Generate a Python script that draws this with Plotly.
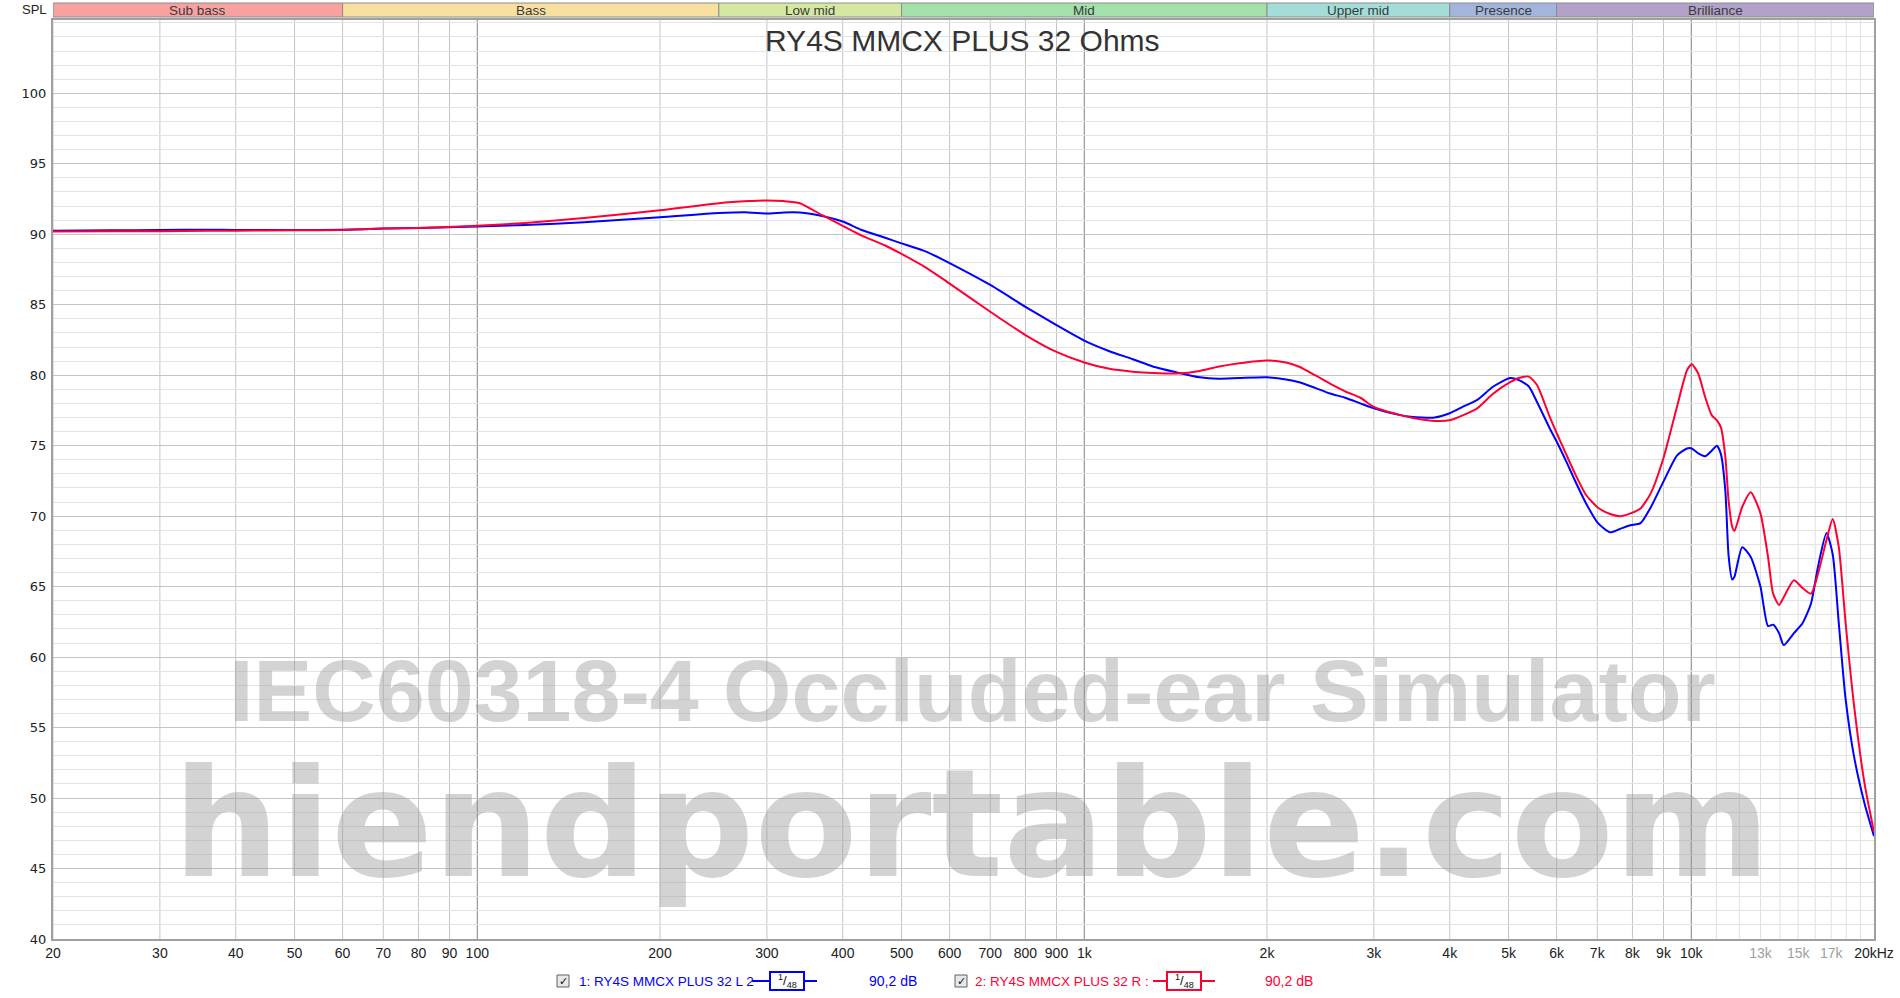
import math
import plotly.graph_objects as go

# ---------------- data ----------------
freq = [20, 25, 30, 36, 40, 50, 60, 70, 80, 100, 120, 150, 200, 250, 280, 300, 320, 340,
        370, 400, 430, 470, 500, 550, 600, 700, 800, 900, 1000, 1100, 1200, 1300, 1420,
        1550, 1660, 1800, 2000, 2150, 2260, 2400, 2540, 2690, 2850, 3000, 3330, 3600,
        3780, 4000, 4200, 4440, 4720, 5030, 5200, 5400, 5570, 5850, 6000, 6220, 6420,
        6710, 7020, 7350, 7640, 7940, 8250, 8570, 9010, 9470, 9840, 10020, 10270, 10540,
        10810, 11020, 11190, 11380, 11520, 11680, 11780, 12130, 12530, 13000, 13380,
        13640, 13950, 14200, 14760, 15250, 15750, 16170, 16700, 17100, 17500, 17960,
        18550, 19300, 20000]

spl_left = [90.25, 90.28, 90.3, 90.32, 90.3, 90.3, 90.32, 90.4, 90.45, 90.55, 90.65, 90.85,
            91.2, 91.5, 91.55, 91.47, 91.55, 91.55, 91.3, 90.9, 90.3, 89.75, 89.35, 88.75,
            87.95, 86.4, 84.85, 83.55, 82.45, 81.7, 81.15, 80.6, 80.2, 79.85, 79.75, 79.8,
            79.85, 79.7, 79.5, 79.1, 78.7, 78.4, 78.0, 77.65, 77.15, 77.0, 77.0, 77.3,
            77.75, 78.25, 79.2, 79.8, 79.65, 79.2, 78.1, 76.2, 75.3, 73.9, 72.6, 70.9,
            69.5, 68.85, 69.1, 69.35, 69.5, 70.6, 72.5, 74.3, 74.8, 74.8, 74.45, 74.25,
            74.65, 75.0, 74.4, 71.8, 67.2, 65.5, 65.7, 67.8, 67.1, 65.0, 62.2, 62.3, 61.7,
            60.85, 61.7, 62.4, 63.8, 66.4, 68.8, 67.3, 62.4, 57.0, 52.9, 49.6, 47.3]

spl_right = [90.2, 90.22, 90.22, 90.25, 90.25, 90.28, 90.3, 90.4, 90.45, 90.6, 90.8, 91.15,
             91.7, 92.2, 92.35, 92.4, 92.35, 92.2, 91.35, 90.6, 89.9, 89.2, 88.6, 87.6,
             86.5, 84.5, 82.85, 81.65, 80.9, 80.45, 80.25, 80.15, 80.12, 80.3, 80.6, 80.85,
             81.05, 80.9, 80.6, 80.0, 79.4, 78.85, 78.4, 77.75, 77.15, 76.85, 76.75, 76.8,
             77.15, 77.65, 78.7, 79.5, 79.8, 79.9, 79.3, 77.0, 75.9, 74.4, 73.1, 71.5,
             70.6, 70.15, 70.0, 70.2, 70.55, 71.6, 74.2, 77.75, 80.35, 80.78, 80.1, 78.45,
             77.15, 76.8, 76.3, 74.2, 71.1, 69.25, 68.95, 70.65, 71.7, 70.2, 67.1, 64.5,
             63.7, 64.25, 65.45, 64.9, 64.5, 65.9, 68.3, 69.8, 67.8, 62.4, 56.5, 51.0, 47.6]

series_names = ["1: RY4S MMCX PLUS 32 L 2", "2: RY4S MMCX PLUS 32 R :"]
series_levels = ["90,2 dB", "90,2 dB"]
series_colors = ["#0000FF", "#FF0033"]

band_names = ["Sub bass", "Bass", "Low mid", "Mid", "Upper mid", "Presence", "Brilliance"]
band_edges = [20, 60, 250, 500, 2000, 4000, 6000, 20000]
band_colors = ["#F9A1A1", "#F8E1A0", "#D5E8A2", "#A2E2AA", "#A2DED7", "#A2B5DC", "#B2A1C8"]

grid_x = ([20, 30, 40, 50, 60, 70, 80, 90]
          + [100, 200, 300, 400, 500, 600, 700, 800, 900]
          + [1000, 2000, 3000, 4000, 5000, 6000, 7000, 8000, 9000]
          + [10000])
grid_x_decades = [100, 1000, 10000]
grid_x_fine = [11000, 12000, 13000, 14000, 15000, 16000, 17000, 18000, 19000]

x_tick_vals = [20, 30, 40, 50, 60, 70, 80, 90, 100, 200, 300, 400, 500, 600, 700, 800, 900,
               1000, 2000, 3000, 4000, 5000, 6000, 7000, 8000, 9000, 10000, 13000, 15000,
               17000, 20000]
x_tick_text = ["20", "30", "40", "50", "60", "70", "80", "90", "100", "200", "300", "400",
               "500", "600", "700", "800", "900", "1k", "2k", "3k", "4k", "5k", "6k", "7k",
               "8k", "9k", "10k", "<span style='color:#A0A0A0'>13k</span>",
               "<span style='color:#A0A0A0'>15k</span>",
               "<span style='color:#A0A0A0'>17k</span>", "20kHz"]
y_tick_vals = [40, 45, 50, 55, 60, 65, 70, 75, 80, 85, 90, 95, 100]

title_text = "RY4S MMCX PLUS 32 Ohms"
watermark1 = "IEC60318-4 Occluded-ear Simulator"
watermark2 = "hiendportable.com"

# ---------------- geometry (page pixels) ----------------
W, H = 1900, 998
L, R, T, B = 53, 1874, 20, 939          # plot area
X_MIN, X_MAX = 20, 20000
Y_MIN, Y_MAX = 40, 105.2


def px(x):
    return (x - L) / (R - L)


def py(y):
    return (B - y) / (B - T)


def fx(f):
    return (math.log10(f) - math.log10(X_MIN)) / (math.log10(X_MAX) - math.log10(X_MIN))


FONT = "Liberation Sans, Arial, sans-serif"

fig = go.Figure()

for name, vals, col in zip(series_names, [spl_left, spl_right], series_colors):
    fig.add_trace(go.Scatter(x=freq, y=vals, mode="lines", name=name,
                             line=dict(color=col, width=2, shape="spline", smoothing=0.6),
                             hoverinfo="x+y"))

shapes = []
for g in grid_x:
    col = "#808080" if g in grid_x_decades else "#C4C4C4"
    shapes.append(dict(type="line", xref="x", yref="paper", x0=g, x1=g, y0=0, y1=1,
                       line=dict(color=col, width=1), layer="below"))
for g in grid_x_fine:
    shapes.append(dict(type="line", xref="x", yref="paper", x0=g, x1=g, y0=0, y1=1,
                       line=dict(color="#E0E0E0", width=1), layer="below"))

for i, nm in enumerate(band_names):
    shapes.append(dict(type="rect", xref="x", yref="paper", x0=band_edges[i],
                       x1=band_edges[i + 1], y0=py(17), y1=py(3),
                       fillcolor=band_colors[i], line=dict(color="#8C8C8C", width=1),
                       layer="above"))

annotations = []
for i, nm in enumerate(band_names):
    c = (fx(band_edges[i]) + fx(band_edges[i + 1])) / 2
    annotations.append(dict(text=nm, xref="paper", yref="paper", x=c, y=py(10),
                            showarrow=False, xanchor="center", yanchor="middle",
                            font=dict(family=FONT, size=13.5, color="#3A3A3A")))

annotations.append(dict(text="SPL", xref="paper", yref="paper", x=px(49), y=py(9),
                        showarrow=False, xanchor="right", yanchor="middle",
                        font=dict(family=FONT, size=13, color="#222222")))

annotations.append(dict(text=title_text, xref="paper", yref="paper", x=px(962), y=py(40),
                        showarrow=False, xanchor="center", yanchor="middle",
                        font=dict(family=FONT, size=30, color="#333333")))

# watermark
annotations.append(dict(text="<b>" + watermark1 + "</b>", xref="paper", yref="paper",
                        x=px(972), y=py(690), showarrow=False, xanchor="center",
                        yanchor="middle",
                        font=dict(family="Liberation Sans, Arial, sans-serif",
                                  size=88, color="rgba(150,150,150,0.42)")))
annotations.append(dict(text="<b>" + watermark2 + "</b>", xref="paper", yref="paper",
                        x=px(971), y=py(824), showarrow=False, xanchor="center",
                        yanchor="middle",
                        font=dict(family="DejaVu Sans, sans-serif", size=150,
                                  color="rgba(150,150,150,0.42)")))

# legend row at the bottom
legend_y = 981
leg_items = [
    dict(cb=563, txt=577, ln0=752, ln1=817, bx0=770, bx1=804, lvl=893),
    dict(cb=961, txt=973, ln0=1153, ln1=1215, bx0=1167, bx1=1201, lvl=1289),
]
for item, name, lvl, col in zip(leg_items, series_names, series_levels, series_colors):
    shapes.append(dict(type="rect", xref="paper", yref="paper",
                       x0=px(item["cb"] - 6), x1=px(item["cb"] + 6),
                       y0=py(legend_y + 6), y1=py(legend_y - 6),
                       fillcolor="#E8E8E8", line=dict(color="#606060", width=1)))
    annotations.append(dict(text="✓", xref="paper", yref="paper", x=px(item["cb"]),
                            y=py(legend_y), showarrow=False, xanchor="center",
                            yanchor="middle",
                            font=dict(family="DejaVu Sans", size=11, color="#111111")))
    annotations.append(dict(text=name, xref="paper", yref="paper", x=px(item["txt"]),
                            y=py(legend_y), showarrow=False, xanchor="left",
                            yanchor="middle", font=dict(family=FONT, size=13.5, color=col)))
    shapes.append(dict(type="line", xref="paper", yref="paper", x0=px(item["ln0"]),
                       x1=px(item["ln1"]), y0=py(legend_y), y1=py(legend_y),
                       line=dict(color=col, width=2)))
    shapes.append(dict(type="rect", xref="paper", yref="paper", x0=px(item["bx0"]),
                       x1=px(item["bx1"]), y0=py(legend_y + 9), y1=py(legend_y - 9),
                       fillcolor="white", line=dict(color=col, width=2)))
    annotations.append(dict(text="<sup>1</sup>/<sub>48</sub>", xref="paper", yref="paper",
                            x=px((item["bx0"] + item["bx1"]) / 2), y=py(legend_y),
                            showarrow=False, xanchor="center", yanchor="middle",
                            font=dict(family=FONT, size=13, color="#111111")))
    annotations.append(dict(text=lvl, xref="paper", yref="paper", x=px(item["lvl"]),
                            y=py(legend_y), showarrow=False, xanchor="center",
                            yanchor="middle", font=dict(family=FONT, size=14, color=col)))

fig.update_layout(
    width=W, height=H, autosize=False,
    margin=dict(l=L, r=W - R, t=T, b=H - B, pad=0, autoexpand=False),
    paper_bgcolor="white", plot_bgcolor="white",
    showlegend=False,
    shapes=shapes, annotations=annotations,
    font=dict(family=FONT, size=12, color="#222222"),
    xaxis=dict(type="log", range=[math.log10(X_MIN), math.log10(X_MAX)],
               tickmode="array", tickvals=x_tick_vals, ticktext=x_tick_text,
               showgrid=False, zeroline=False, ticks="", ticklen=0,
               ticklabeloverflow="allow", automargin=False,
               showline=True, linecolor="#A0A0A0", linewidth=2, mirror=True,
               tickfont=dict(family=FONT, size=14, color="#222222")),
    yaxis=dict(range=[Y_MIN, Y_MAX], tickmode="array", tickvals=y_tick_vals,
               showgrid=True, gridcolor="#C4C4C4", gridwidth=1, zeroline=False,
               ticks="", showline=True, linecolor="#A0A0A0", linewidth=2, mirror=True,
               ticklabelstandoff=2, automargin=False,
               minor=dict(dtick=1, tick0=40, showgrid=True, gridcolor="#E3E3E3", gridwidth=1),
               tickfont=dict(family="DejaVu Sans, sans-serif", size=13, color="#222222")),
)

# remove the default 8px page margin so the figure sits at the window's top-left corner
fig.write_html("out.html", config={"displayModeBar": False},
               post_script="document.body.style.margin='0px';document.body.style.overflow='hidden';")
